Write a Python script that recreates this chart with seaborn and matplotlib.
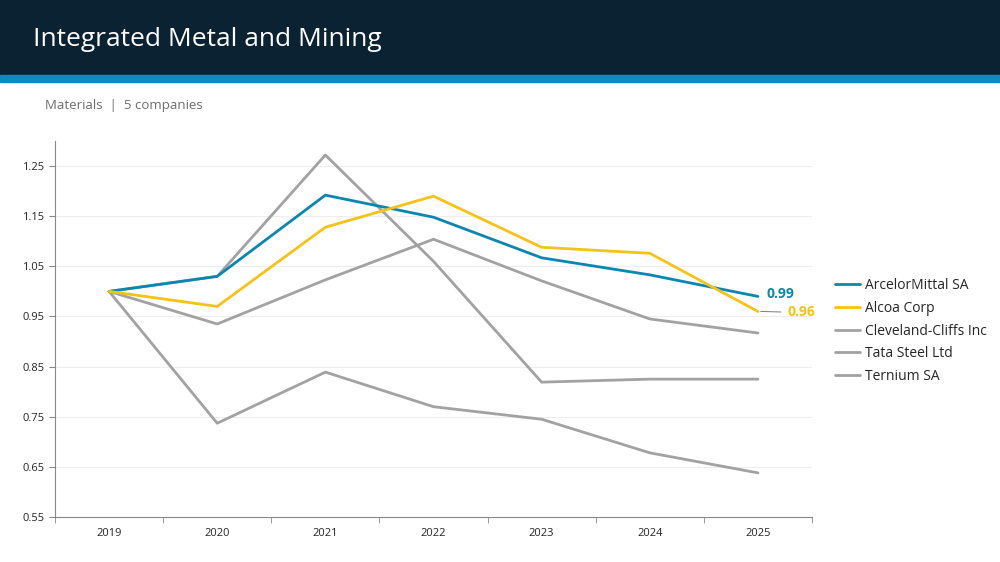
import matplotlib
matplotlib.use("Agg")
import matplotlib.pyplot as plt
import seaborn as sns
import pandas as pd

years = [2019, 2020, 2021, 2022, 2023, 2024, 2025]
arcelor = [1.00, 1.03, 1.192, 1.148, 1.067, 1.033, 0.99]
alcoa = [1.00, 0.97, 1.128, 1.19, 1.088, 1.076, 0.96]
cleveland = [1.00, 1.03, 1.272, 1.06, 0.819, 0.825, 0.825]
tata = [1.00, 0.935, 1.023, 1.104, 1.021, 0.945, 0.917]
ternium = [1.00, 0.737, 0.839, 0.77, 0.745, 0.678, 0.638]
names = ["ArcelorMittal SA", "Alcoa Corp", "Cleveland-Cliffs Inc", "Tata Steel Ltd", "Ternium SA"]
series = [arcelor, alcoa, cleveland, tata, ternium]
colors = ["#0a86b0", "#f5c315", "#a2a2a2", "#a2a2a2", "#a2a2a2"]
yticks = [0.55, 0.65, 0.75, 0.85, 0.95, 1.05, 1.15, 1.25]

rows = []
for n, s in zip(names, series):
    for i, v in enumerate(s):
        rows.append({"company": n, "x": i, "value": v})
df = pd.DataFrame(rows)

sns.set_style("white")
plt.rcParams["font.family"] = ["Open Sans", "DejaVu Sans"]
fig = plt.figure(figsize=(10, 5.62), dpi=100)
fig.patches.append(plt.Rectangle((0, 1 - 75/562), 1, 75/562, transform=fig.transFigure, color="#0b2233", zorder=0))
fig.patches.append(plt.Rectangle((0, 1 - 82/562), 1, 7/562, transform=fig.transFigure, color="#0b8bbf", zorder=0))
fig.text(0.033, 1 - 40/562, "Integrated Metal and Mining", color="white", fontsize=19, va="center")
fig.text(0.045, 1 - 106/562, "Materials  |  5 companies", color="#6d6d6d", fontsize=9.5, va="center")

ax = fig.add_axes([0.055, 1 - 517/562, 0.757, (517 - 141)/562])
order = names[2:] + names[:2]
sns.lineplot(data=df, x="x", y="value", hue="company", hue_order=order,
             palette=dict(zip(names, colors)), ax=ax, linewidth=2, legend=False)
ax.set_xlim(-0.5, 6.5)
ax.set_ylim(0.55, 1.30)
ax.set_yticks(yticks)
ax.set_yticklabels([f"{t:.2f}" for t in yticks], fontsize=8)
ax.set_xticks(range(7))
ax.set_xticklabels([str(y) for y in years], fontsize=8)
ax.set_xticks([i + 0.5 for i in range(-1, 7)], minor=True)
ax.tick_params(axis="x", which="major", length=0, pad=8)
ax.tick_params(axis="x", which="minor", length=4, color="#888888", bottom=True)
ax.tick_params(axis="y", length=4, color="#888888", left=True)
ax.grid(axis="y", color="#eeeeee", linewidth=0.8)
ax.set_xlabel(""); ax.set_ylabel("")
for s in ["top", "right"]:
    ax.spines[s].set_visible(False)
for s in ["left", "bottom"]:
    ax.spines[s].set_color("#888888")

ax.text(6.08, arcelor[-1] + 0.005, f"{arcelor[-1]:.2f}", color=colors[0], fontsize=10, fontweight="bold", va="center")
ax.annotate(f"{alcoa[-1]:.2f}", xy=(6, alcoa[-1]), xytext=(6.27, alcoa[-1] - 0.002), color=colors[1],
            fontsize=10, fontweight="bold", va="center",
            arrowprops=dict(arrowstyle="-", color="#666666", lw=0.6))

from matplotlib.lines import Line2D
handles = [Line2D([], [], color=c, lw=2) for c in colors]
fig.legend(handles, names, loc="center left", bbox_to_anchor=(0.822, 1 - 331/562), frameon=False,
           fontsize=10, handlelength=1.8, labelspacing=0.55, handletextpad=0.4)
fig.savefig("out.png", dpi=100)
